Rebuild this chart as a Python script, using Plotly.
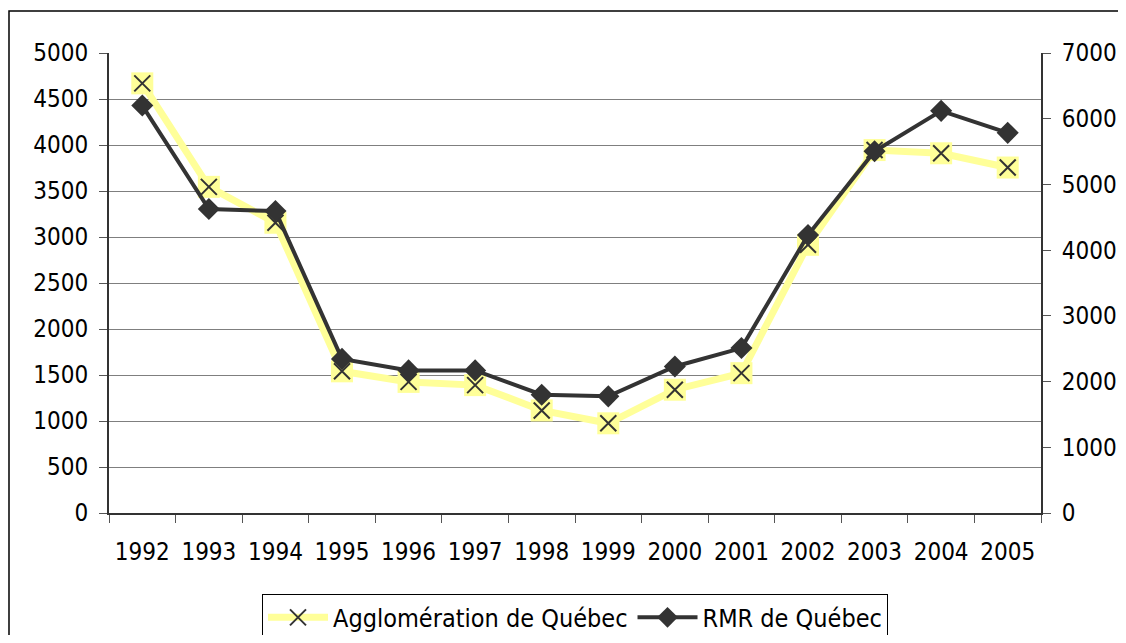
import plotly.graph_objects as go

years = ['1992', '1993', '1994', '1995', '1996', '1997', '1998',
         '1999', '2000', '2001', '2002', '2003', '2004', '2005']
agglo = [4670, 3545, 3155, 1540, 1425, 1390, 1115, 975, 1340, 1520, 2915, 3945, 3910, 3755]
rmr = [6200, 4625, 4595, 2345, 2170, 2170, 1800, 1775, 2230, 2510, 4230, 5505, 6120, 5785]

left_ticks = list(range(0, 5001, 500))
right_ticks = list(range(0, 7001, 1000))

FONT = 'DejaVu Sans Condensed, DejaVu Sans'
YELLOW = '#FFFF99'
DARK = '#333333'

fig = go.Figure()

# yellow square behind each X (Excel style marker background)
fig.add_trace(go.Scatter(
    x=years, y=agglo, mode='markers',
    marker=dict(symbol='square', size=22, color=YELLOW),
    showlegend=False, hoverinfo='skip'
))
fig.add_trace(go.Scatter(
    x=years, y=agglo, mode='lines+markers',
    name='Agglomération de Québec',
    line=dict(color=YELLOW, width=7),
    marker=dict(symbol='x-thin', size=16, line=dict(color=DARK, width=2))
))
fig.add_trace(go.Scatter(
    x=years, y=rmr, mode='lines+markers',
    name='RMR de Québec', yaxis='y2',
    line=dict(color=DARK, width=4),
    marker=dict(symbol='diamond', size=17, color=DARK)
))

# the page body keeps an 8px margin all round, so the figure is 16px smaller
# than the window in each direction (no scrollbars)
fig.update_layout(
    width=1110, height=627,
    margin=dict(l=101, r=77, t=45, b=122, autoexpand=False),
    paper_bgcolor='white', plot_bgcolor='white',
    font=dict(family=FONT, size=24, color='black'),
    xaxis=dict(
        type='category', tickson='boundaries', ticks='outside', ticklen=8,
        tickcolor='#555555', showline=True, linecolor='#333333', linewidth=2,
        showgrid=False, ticklabelstandoff=16, range=[-0.5, 13.5],
        automargin=False
    ),
    yaxis=dict(
        range=[0, 5000], tickvals=left_ticks, ticks='outside', ticklen=8,
        tickcolor='#555555', showline=True, linecolor='#333333', linewidth=2,
        showgrid=True, gridcolor='#7f7f7f', gridwidth=1, zeroline=False,
        ticklabelstandoff=6, automargin=False
    ),
    yaxis2=dict(
        range=[0, 7000], tickvals=right_ticks, overlaying='y', side='right',
        ticks='outside', ticklen=8, tickcolor='#555555', showline=True,
        linecolor='#333333', linewidth=2, showgrid=False, zeroline=False,
        ticklabelstandoff=6, automargin=False
    ),
    legend=dict(
        orientation='h', x=0.5, xanchor='center',
        yref='container', y=0.066, yanchor='top',
        bordercolor='black', borderwidth=1, font=dict(size=25),
        itemwidth=60
    ),
    shapes=[dict(
        type='rect', xref='paper', yref='paper',
        x0=-0.1073, x1=1.2, y0=-0.4, y1=1.0913,
        line=dict(color='black', width=1.5)
    )]
)

fig.write_html("out.html")
